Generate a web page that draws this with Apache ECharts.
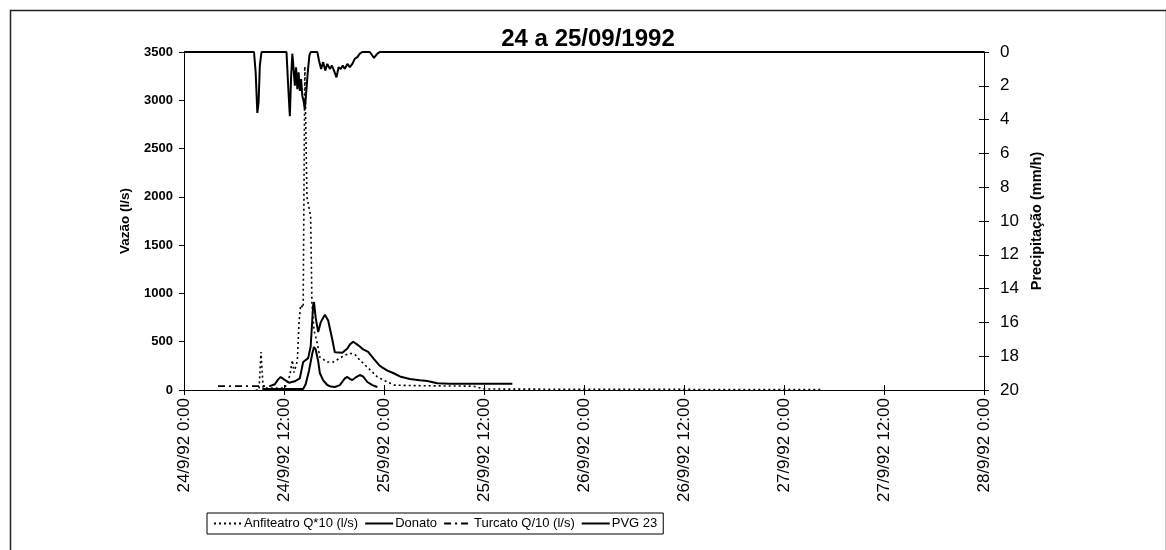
<!DOCTYPE html>
<html>
<head>
<meta charset="utf-8">
<script src="https://cdn.jsdelivr.net/npm/echarts@6/dist/echarts.min.js"></script>
<style>
  html, body { margin: 0; padding: 0; background: #fff; }
  #chart { width: 1166px; height: 550px; }
</style>
</head>
<body>
<div id="chart"></div>
<script>
// Time is in hours counted from 24/9/92 0:00.
const xTickLabels = ['24/9/92 0:00', '24/9/92 12:00', '25/9/92 0:00', '25/9/92 12:00',
  '26/9/92 0:00', '26/9/92 12:00', '27/9/92 0:00', '27/9/92 12:00', '28/9/92 0:00'];

// Anfiteatro discharge x10 (l/s)
const anfiteatro = [
  [8.6, 0], [9.0, 0], [9.24, 393], [9.5, 20], [10.3, 20], [12.1, 20], [12.7, 150],
  [13.0, 310], [13.2, 180], [13.6, 300], [13.8, 700], [14.0, 880], [14.3, 850],
  [14.5, 3350], [14.75, 2000], [15.2, 1800], [15.35, 900], [15.6, 620], [16.0, 480],
  [16.3, 340], [17.2, 290], [17.9, 290], [18.7, 330], [19.3, 360], [19.9, 380],
  [20.5, 370], [21.1, 310], [22.1, 228], [23.2, 135], [24.4, 83], [25.3, 50],
  [28.0, 45], [31.0, 42], [34.7, 40], [36.0, 10], [45.0, 8], [60.0, 6], [76.7, 5]
];

// Donato discharge (l/s)
const donato = [
  [9.4, 10], [14.3, 10], [14.6, 60], [15.0, 200], [15.4, 380], [15.6, 445], [15.8, 420],
  [16.1, 300], [16.3, 176], [16.7, 100], [17.2, 52], [17.6, 35], [18.1, 31], [18.7, 50],
  [19.3, 120], [19.6, 135], [19.9, 115], [20.2, 104], [20.6, 130], [21.1, 155],
  [21.5, 140], [22.0, 83], [22.6, 50], [23.2, 31]
];

// Turcato discharge /10 (l/s): sparse readings before the event, dense ones after
const turcatoSparse = [[4.08, 40], [6.5, 40], [9.36, 40], [10.3, 40]];
const turcatoDense = [
  [10.3, 40], [10.9, 60], [11.3, 110], [11.6, 135], [12.0, 110], [12.6, 75], [13.3, 90],
  [13.9, 120], [14.3, 290], [14.9, 330], [15.2, 450], [15.5, 880], [15.6, 910],
  [15.8, 750], [16.1, 600], [16.4, 700], [16.9, 780], [17.3, 720], [17.8, 520],
  [18.1, 390], [19.0, 385], [19.6, 430], [19.9, 470], [20.3, 500], [20.8, 470],
  [21.1, 450], [21.5, 420], [22.1, 395], [22.8, 320], [23.5, 250], [24.4, 200],
  [25.1, 176], [25.9, 140], [27.1, 114], [28.3, 100], [29.2, 93], [30.4, 70],
  [31.9, 65], [39.4, 65]
];

// PVG 23 rainfall intensity (mm/h)
const pvg23 = [
  [0, 0], [8.4, 0], [8.6, 1.2], [8.8, 3.6], [8.95, 3.0], [9.1, 0.8], [9.3, 0],
  [12.3, 0], [12.5, 2.0], [12.7, 3.8], [12.85, 1.5], [13.0, 0.1], [13.15, 1.0],
  [13.3, 2.0], [13.45, 0.9], [13.6, 2.2], [13.75, 1.2], [13.9, 2.3], [14.05, 1.6],
  [14.2, 2.6], [14.35, 2.9], [14.5, 3.4], [14.65, 2.5], [14.85, 1.2], [15.05, 0.2],
  [15.2, 0], [16.0, 0], [16.2, 0.5], [16.45, 1.0], [16.7, 0.6], [16.95, 1.1],
  [17.2, 0.7], [17.5, 1.0], [17.75, 0.8], [18.0, 1.1], [18.3, 1.5], [18.55, 0.9],
  [18.8, 1.0], [19.05, 0.8], [19.3, 1.0], [19.6, 0.7], [19.9, 0.9], [20.2, 0.7],
  [20.5, 0.4], [20.8, 0.3], [21.1, 0.1], [21.4, 0], [22.3, 0], [22.8, 0.35],
  [23.2, 0.1], [23.5, 0], [96, 0]
];

const seriesNames = ['Anfiteatro Q*10 (l/s)', 'Donato', 'Turcato Q/10 (l/s)', 'PVG 23'];

const FONT = "'Liberation Sans', Arial, sans-serif";

const chart = echarts.init(document.getElementById('chart'), null, { renderer: 'canvas' });

const lineBase = { type: 'line', showSymbol: false, symbol: 'none', animation: false };
const black = { color: '#000', width: 1 };

const gridRect = { left: 184, right: 182, top: 52, bottom: 160, containLabel: false };
const xBase = { type: 'value', min: 0, max: 96, interval: 12, splitLine: { show: false } };
const rainBase = { type: 'value', min: 0, max: 20, interval: 2, inverse: true, position: 'right',
  splitLine: { show: false } };

chart.setOption({
  backgroundColor: '#ffffff',
  animation: false,
  title: {
    text: '24 a 25/09/1992',
    left: 583, top: 22, textAlign: 'center',
    textStyle: { fontFamily: FONT, fontWeight: 'bold', fontSize: 24, color: '#000' }
  },
  graphic: [{
    type: 'rect', left: 8, top: 8, silent: true,
    shape: { width: 1156, height: 560 },
    style: { fill: 'none', stroke: '#222', lineWidth: 1.5 }
  }],
  // grid 1 overlays grid 0 and carries the inward half of the crossing ticks
  grid: [gridRect, Object.assign({}, gridRect)],
  legend: {
    data: seriesNames,
    left: 207, top: 513,
    padding: [4, 6, 4, 6],
    borderColor: '#000', borderWidth: 1,
    itemGap: 6, itemWidth: 28, itemHeight: 10,
    itemStyle: { opacity: 0 },
    textStyle: { fontFamily: FONT, fontSize: 13, color: '#000', padding: [0, 0, 0, -3] }
  },
  xAxis: [Object.assign({}, xBase, {
    gridIndex: 0, position: 'bottom',
    axisLine: { onZero: false, lineStyle: black },
    axisTick: { length: 5, lineStyle: black },
    axisLabel: {
      rotate: 90, margin: 8, color: '#000',
      fontFamily: FONT, fontSize: 17,
      formatter: v => xTickLabels[Math.round(v / 12)]
    }
  }), Object.assign({}, xBase, {
    gridIndex: 1, position: 'bottom',
    axisLine: { onZero: false, lineStyle: black },
    axisTick: { inside: true, length: 5, lineStyle: black },
    axisLabel: { show: false }
  })],
  yAxis: [{
    gridIndex: 0,
    type: 'value', min: 0, max: 3500, interval: 500,
    name: 'Vazão (l/s)', nameLocation: 'middle', nameGap: 52, nameRotate: 90,
    nameTextStyle: { fontFamily: FONT, fontWeight: 'bold', fontSize: 13.5, color: '#000' },
    axisLine: { show: true, onZero: false, lineStyle: black },
    axisTick: { show: true, length: 5, lineStyle: black },
    splitLine: { show: false },
    axisLabel: {
      margin: 11, color: '#000', fontFamily: FONT, fontWeight: 'bold', fontSize: 13,
      formatter: v => String(v)
    }
  }, Object.assign({}, rainBase, {
    gridIndex: 0,
    name: 'Precipitação (mm/h)', nameLocation: 'middle', nameGap: 44, nameRotate: 90,
    nameTextStyle: { fontFamily: FONT, fontWeight: 'bold', fontSize: 14.5, color: '#000' },
    axisLine: { show: true, onZero: false, lineStyle: black },
    axisTick: { show: true, length: 5, lineStyle: black },
    axisLabel: { margin: 16, color: '#000', fontFamily: FONT, fontSize: 17 }
  }), Object.assign({}, rainBase, {
    gridIndex: 1,
    axisLine: { show: true, onZero: false, lineStyle: black },
    axisTick: { show: true, inside: true, length: 5, lineStyle: black },
    axisLabel: { show: false }
  })],
  series: [
    Object.assign({}, lineBase, {
      name: seriesNames[0], data: anfiteatro, xAxisIndex: 0, yAxisIndex: 0, z: 3,
      lineStyle: { color: '#000', width: 1.6, type: [2, 3] }, itemStyle: { color: '#000' }
    }),
    Object.assign({}, lineBase, {
      name: seriesNames[1], data: donato, xAxisIndex: 0, yAxisIndex: 0, z: 4,
      lineStyle: { color: '#000', width: 2 }, itemStyle: { color: '#000' }
    }),
    Object.assign({}, lineBase, {
      name: seriesNames[2], data: turcatoSparse, xAxisIndex: 0, yAxisIndex: 0, z: 4,
      lineStyle: { color: '#000', width: 1.6, type: [7, 4, 2, 4] }, itemStyle: { color: '#000' }
    }),
    Object.assign({}, lineBase, {
      name: seriesNames[2], data: turcatoDense, xAxisIndex: 0, yAxisIndex: 0, z: 4,
      lineStyle: { color: '#000', width: 2 }, itemStyle: { color: '#000' }
    }),
    Object.assign({}, lineBase, {
      name: seriesNames[3], data: pvg23, xAxisIndex: 0, yAxisIndex: 1, z: 5,
      lineStyle: { color: '#000', width: 2 }, itemStyle: { color: '#000' }
    })
  ]
});
</script>
</body>
</html>
